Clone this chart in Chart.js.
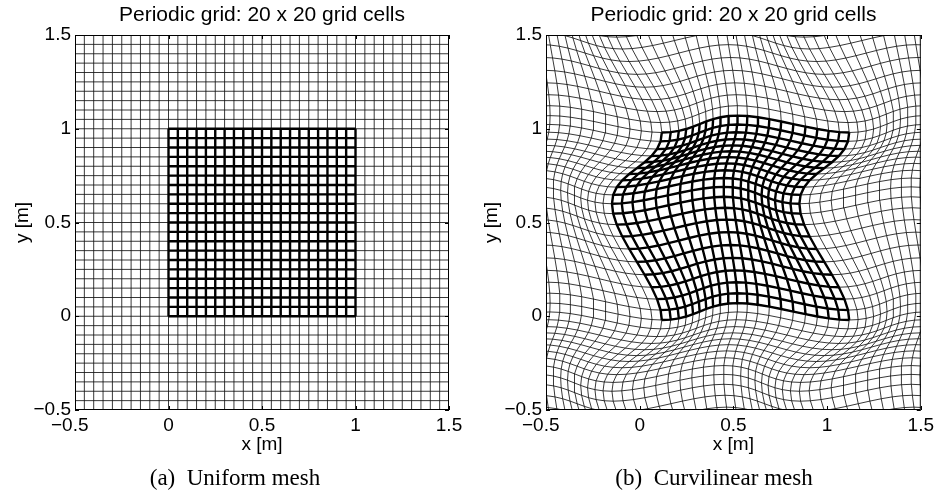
<!DOCTYPE html>
<html>
<head>
<meta charset="utf-8">
<script src="https://cdn.jsdelivr.net/npm/chart.js@4.4.1/dist/chart.umd.min.js"></script>
<style>
  html, body { margin: 0; padding: 0; background: #fff; }
  #wrap { position: relative; width: 938px; height: 494px; }
  canvas { position: absolute; top: 0; }
</style>
</head>
<body>
<div id="wrap">
  <canvas id="uniformChart" width="469" height="494" style="left:0"></canvas>
  <canvas id="curvedChart" width="469" height="494" style="left:469px"></canvas>
</div>
<script>
// node coordinates of the mesh in both directions (spacing 0.05, a bit past the axes)
const gridNodes = [-0.8, -0.75, -0.7, -0.65, -0.6, -0.55, -0.5, -0.45, -0.4, -0.35, -0.3, -0.25,
  -0.2, -0.15, -0.1, -0.05, 0, 0.05, 0.1, 0.15, 0.2, 0.25, 0.3, 0.35, 0.4, 0.45, 0.5, 0.55,
  0.6, 0.65, 0.7, 0.75, 0.8, 0.85, 0.9, 0.95, 1, 1.05, 1.1, 1.15, 1.2, 1.25, 1.3, 1.35, 1.4,
  1.45, 1.5, 1.55, 1.6, 1.65, 1.7, 1.75, 1.8];
// the 20 x 20 cell block that is drawn thick
const cellRange = [0, 1];
const tickValues = [-0.5, 0, 0.5, 1, 1.5];
const xTickLabels = ['\u22120.5  ', '0', '0.5', '1', '1.5'];
const yTickLabels = ['\u22120.5', '0', '0.5', '1', '1.5'];
const panelTitle = 'Periodic grid: 20 x 20 grid cells';
const captions = ['(a)  Uniform mesh', '(b)  Curvilinear mesh'];
// curvilinear warp, estimated from panel (b)
const warpX = [-0.015, 0.085, 0.048];  // shift, cos(2pi eta), cos(2pi xi)cos(2pi eta)
const warpY = [0.085, -0.045, -0.06];  // shift, cos(2pi xi), cos(2pi eta)

function uniformMap(xi, eta) {
    return { x: xi, y: eta };
}

function curvedMap(xi, eta) {
    const cx = Math.cos(2 * Math.PI * xi);
    const ce = Math.cos(2 * Math.PI * eta);
    return {
        x: xi + warpX[0] + warpX[1] * ce + warpX[2] * cx * ce,
        y: eta + warpY[0] + warpY[1] * cx + warpY[2] * ce
    };
}

function meshLines(mapFn) {
    const thin = [], thick = [];
    gridNodes.forEach(a => {
        thin.push(gridNodes.map(b => mapFn(a, b)));
        thin.push(gridNodes.map(b => mapFn(b, a)));
    });
    const cell = gridNodes.filter(v => v >= cellRange[0] && v <= cellRange[1]);
    cell.forEach(a => {
        thick.push(cell.map(b => mapFn(a, b)));
        thick.push(cell.map(b => mapFn(b, a)));
    });
    return { thin, thick };
}

// box, inside ticks, title and caption
const framePlugin = {
    id: 'frame',
    afterDatasetsDraw(chart, args, opts) {
        const { ctx, chartArea: a, scales } = chart;
        ctx.save();
        ctx.strokeStyle = '#000';
        ctx.lineWidth = 1;
        ctx.strokeRect(a.left + 0.5, a.top + 0.5, a.right - a.left - 1, a.bottom - a.top - 1);
        ctx.beginPath();
        tickValues.forEach(v => {
            const px = Math.round(scales.x.getPixelForValue(v)) + 0.5;
            const py = Math.round(scales.y.getPixelForValue(v)) + 0.5;
            ctx.moveTo(px, a.bottom); ctx.lineTo(px, a.bottom - 4);
            ctx.moveTo(px, a.top); ctx.lineTo(px, a.top + 4);
            ctx.moveTo(a.left, py); ctx.lineTo(a.left + 4, py);
            ctx.moveTo(a.right, py); ctx.lineTo(a.right - 4, py);
        });
        ctx.stroke();
        ctx.restore();
    },
    afterDraw(chart, args, opts) {
        const { ctx, chartArea: a } = chart;
        ctx.save();
        ctx.fillStyle = '#000';
        ctx.textAlign = 'center';
        ctx.textBaseline = 'alphabetic';
        ctx.font = '21px "Liberation Sans", Arial, sans-serif';
        ctx.fillText(panelTitle, (a.left + a.right) / 2, 21);
        ctx.font = '23px "Liberation Serif", "Times New Roman", serif';
        ctx.fillText(opts.caption, opts.captionX, 485);
        ctx.restore();
    }
};

function makeChart(id, mapFn, axisWidth, rightPad, caption, captionX) {
    const { thin, thick } = meshLines(mapFn);
    const datasets = [];
    thick.forEach(pts => datasets.push({
        data: pts, borderColor: '#000', borderWidth: 2.4, order: 0
    }));
    thin.forEach(pts => datasets.push({
        data: pts, borderColor: 'rgba(0,0,0,0.78)', borderWidth: 1, order: 1
    }));
    datasets.forEach(d => Object.assign(d, {
        showLine: true, pointRadius: 0, tension: 0, fill: false, clip: 0
    }));

    const tickFont = { family: '"Liberation Sans", Arial, sans-serif', size: 19 };
    return new Chart(document.getElementById(id), {
        type: 'scatter',
        data: { datasets },
        options: {
            responsive: false,
            animation: false,
            events: [],
            layout: { padding: { left: 0, right: rightPad, top: 35, bottom: 34 } },
            plugins: {
                legend: { display: false },
                tooltip: { enabled: false },
                frame: { caption, captionX }
            },
            scales: {
                x: {
                    type: 'linear', min: -0.5, max: 1.5,
                    afterBuildTicks: s => { s.ticks = tickValues.map(v => ({ value: v })); },
                    afterFit: s => { s.height = 50; },
                    ticks: {
                        color: '#000', font: tickFont, padding: 4, maxRotation: 0, autoSkip: false,
                        callback: v => xTickLabels[tickValues.indexOf(v)]
                    },
                    grid: { display: false, drawTicks: false },
                    border: { display: false },
                    title: {
                        display: true, text: 'x [m]', color: '#000', font: tickFont,
                        padding: { top: 0, bottom: 4 }
                    }
                },
                y: {
                    type: 'linear', min: -0.5, max: 1.5,
                    afterBuildTicks: s => { s.ticks = tickValues.map(v => ({ value: v })); },
                    afterFit: s => { s.width = axisWidth; },
                    ticks: {
                        color: '#000', font: tickFont, padding: 4, autoSkip: false,
                        callback: v => yTickLabels[tickValues.indexOf(v)]
                    },
                    grid: { display: false, drawTicks: false },
                    border: { display: false },
                    title: {
                        display: true, text: 'y [m]', color: '#000', font: tickFont,
                        padding: { top: 11, bottom: 0 }
                    }
                }
            }
        },
        plugins: [framePlugin]
    });
}

makeChart('uniformChart', uniformMap, 75, 20, captions[0], 235);
makeChart('curvedChart', curvedMap, 77, 17, captions[1], 245);
</script>
</body>
</html>
